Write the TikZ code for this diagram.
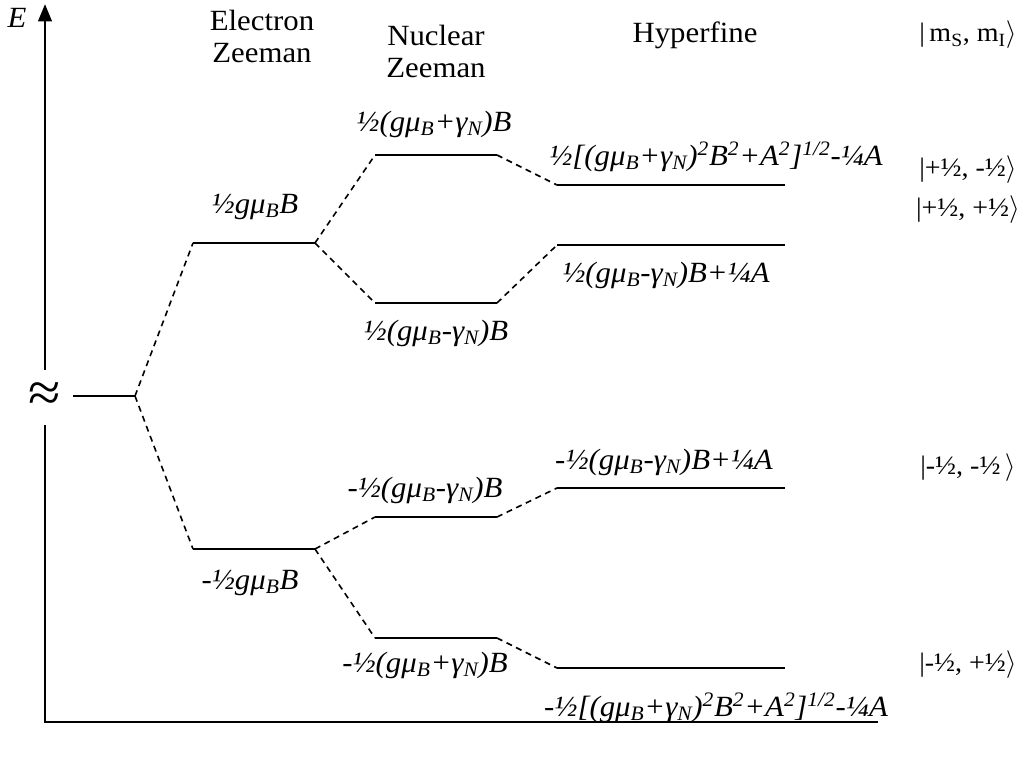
\documentclass[tikz,border=0pt]{standalone}
\usepackage{fontspec}
\setmainfont{Liberation Serif}[FakeStretch=1.05]
\usetikzlibrary{arrows.meta}

\newcommand{\muB}{μ\textsubscript{B}}
\newcommand{\gamN}{γ\textsubscript{N}}
\newcommand{\sqtwo}{\textsuperscript{2}}
\newcommand{\ketend}{$\big\rangle$}

\tikzset{
  axis/.style={line width=2.2pt},
  level/.style={line width=1.5pt},
  split/.style={line width=1.2pt, dash pattern=on 4.5pt off 3.5pt},
  lab/.style={font=\fontsize{22}{26}\selectfont\itshape, inner sep=0pt},
  ket/.style={font=\fontsize{20}{24}\selectfont, inner sep=0pt},
  head/.style={font=\fontsize{22}{24}\selectfont, align=center, inner sep=0pt}
}

\begin{document}
\begin{tikzpicture}[x=0.75pt,y=-0.75pt]
\useasboundingbox (0,0) rectangle (1034,764);

% energy axis with break
\coordinate (orig) at (45,722);
\coordinate (xend) at (878,722);
\coordinate (ytop) at (45,4);
\coordinate (brklo) at (45,425);
\coordinate (brkhi) at (45,370);
\draw[axis] (brklo) -- (orig) -- (xend);
\draw[axis,-{Triangle[width=10pt,length=13pt]}] (brkhi) -- (ytop);
\node[lab] (elab) at (17,18) {E};
\node[font=\fontsize{42}{42}\selectfont, inner sep=0pt] (brk) at (45,397) {≈};

% headings
\node[head] (hez) at (262,36) {Electron\\Zeeman};
\node[head] (hnz) at (436,51) {Nuclear\\Zeeman};
\node[head] (hhf) at (695,35) {Hyperfine};
\node[ket] (hket) at (968,35) {|\,m\textsubscript{S}, m\textsubscript{I}\ketend};

% levels
\coordinate (g0l) at (73,396);  \coordinate (g0r) at (135,396);
\coordinate (e1l) at (193,243); \coordinate (e1r) at (315,243);
\coordinate (e2l) at (193,549); \coordinate (e2r) at (315,549);
\coordinate (n1l) at (375,155); \coordinate (n1r) at (497,155);
\coordinate (n2l) at (375,303); \coordinate (n2r) at (497,303);
\coordinate (n3l) at (375,517); \coordinate (n3r) at (497,517);
\coordinate (n4l) at (375,638); \coordinate (n4r) at (497,638);
\coordinate (h1l) at (557,185); \coordinate (h1r) at (785,185);
\coordinate (h2l) at (557,245); \coordinate (h2r) at (785,245);
\coordinate (h3l) at (557,488); \coordinate (h3r) at (785,488);
\coordinate (h4l) at (557,668); \coordinate (h4r) at (785,668);

\draw[level] (g0l) -- (g0r);
\draw[level] (e1l) -- (e1r);
\draw[level] (e2l) -- (e2r);
\draw[level] (n1l) -- (n1r);
\draw[level] (n2l) -- (n2r);
\draw[level] (n3l) -- (n3r);
\draw[level] (n4l) -- (n4r);
\draw[level] (h1l) -- (h1r);
\draw[level] (h2l) -- (h2r);
\draw[level] (h3l) -- (h3r);
\draw[level] (h4l) -- (h4r);

% splittings
\draw[split] (g0r) -- (e1l);
\draw[split] (g0r) -- (e2l);
\draw[split] (e1r) -- (n1l);
\draw[split] (e1r) -- (n2l);
\draw[split] (e2r) -- (n3l);
\draw[split] (e2r) -- (n4l);
\draw[split] (n1r) -- (h1l);
\draw[split] (n2r) -- (h2l);
\draw[split] (n3r) -- (h3l);
\draw[split] (n4r) -- (h4l);

% energies
\node[lab] (le1) at (255,207) {½g\muB B};
\node[lab] (le2) at (250,583) {-½g\muB B};
\node[lab] (ln1) at (434,124) {½(g\muB+\gamN)B};
\node[lab] (ln2) at (436,333) {½(g\muB-\gamN)B};
\node[lab] (ln3) at (425,490) {-½(g\muB-\gamN)B};
\node[lab] (ln4) at (425,665) {-½(g\muB+\gamN)B};
\node[lab] (lh1) at (716,157) {½[(g\muB+\gamN)\sqtwo B\sqtwo+A\sqtwo]\textsuperscript{1/2}-¼A};
\node[lab] (lh2) at (666,275) {½(g\muB-\gamN)B+¼A};
\node[lab] (lh3) at (664,462) {-½(g\muB-\gamN)B+¼A};
\node[lab] (lh4) at (716,708) {-½[(g\muB+\gamN)\sqtwo B\sqtwo+A\sqtwo]\textsuperscript{1/2}-¼A};

% states
\node[ket] (k1) at (968,170) {|+½, -½\ketend};
\node[ket] (k2) at (968,210) {|+½, +½\ketend};
\node[ket] (k3) at (968,468) {|-½, -½\,\ketend};
\node[ket] (k4) at (968,665) {|-½, +½\ketend};
\end{tikzpicture}
\end{document}
